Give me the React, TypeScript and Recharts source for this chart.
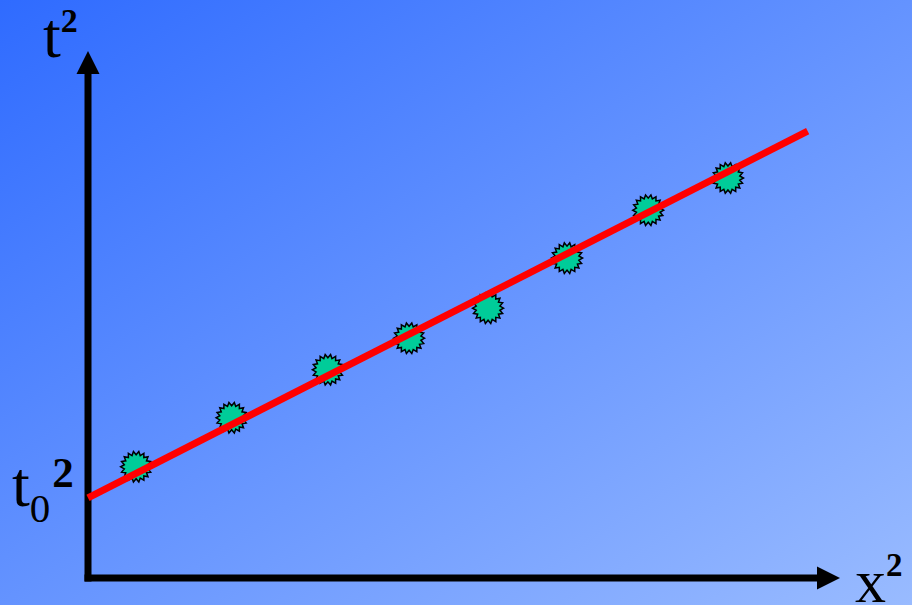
import { ComposedChart, XAxis, YAxis, Scatter, ReferenceLine } from "recharts"

// measured samples (x², t²) in arbitrary units
const xSquared = [0.64, 1.91, 3.19, 4.27, 5.32, 6.37, 7.45, 8.51]
const tSquared = [2.11, 3.04, 3.95, 4.55, 5.12, 6.07, 6.98, 7.59]

// least squares fit: intercept t0² and the far end of the drawn segment
const fitX = [0, 9.57]
const fitT = [1.52, 8.48]

const AXIS_MAX = 10

const points = xSquared.map((x, i) => ({ x, t: tSquared[i] }))
const fitLine = fitX.map((x, i) => ({ x, t: fitT[i] }))

const W = 912
const H = 605

function Starburst({ cx, cy }: { cx?: number; cy?: number }) {
  if (cx == null || cy == null) return null
  const spikes = 18
  const outer = 15.5
  const inner = 12
  const pts: string[] = []
  for (let i = 0; i < spikes * 2; i++) {
    const r = i % 2 === 0 ? outer : inner
    const a = (Math.PI * i) / spikes
    pts.push(`${cx + r * Math.cos(a)},${cy + r * Math.sin(a)}`)
  }
  return <polygon points={pts.join(" ")} fill="#00CC99" stroke="#000" strokeWidth={1.5} />
}

const NoDot = () => <g />

// thick axis with a filled arrow head at the far end
function ArrowAxis(props: any) {
  const { x1, y1, x2, y2 } = props
  const dx = x2 - x1
  const dy = y2 - y1
  const len = Math.hypot(dx, dy)
  const ux = dx / len
  const uy = dy / len
  const head = 23
  const half = 11.5
  const bx = x2 - ux * head
  const by = y2 - uy * head
  return (
    <g>
      <line x1={x1} y1={y1} x2={bx} y2={by} stroke="#000" strokeWidth={7} strokeLinecap="square" />
      <polygon
        points={`${x2},${y2} ${bx - uy * half},${by + ux * half} ${bx + uy * half},${by - ux * half}`}
        fill="#000"
      />
    </g>
  )
}

const serif = "'Liberation Serif', 'DejaVu Serif', serif"

export default function App() {
  return (
    <div
      style={{
        position: "fixed",
        left: 0,
        top: 0,
        width: W,
        height: H,
        background: "linear-gradient(to bottom right, #2F6BFF, #99BBFF)",
      }}
    >
      <ComposedChart width={W} height={H} margin={{ top: 51, right: 72, bottom: 27, left: 88 }}>
        <XAxis type="number" dataKey="x" domain={[0, AXIS_MAX]} hide />
        <YAxis type="number" dataKey="t" domain={[0, AXIS_MAX]} hide />
        <ReferenceLine
          segment={[{ x: 0, y: 0 }, { x: 0, y: AXIS_MAX }]}
          shape={ArrowAxis}
        />
        <ReferenceLine
          segment={[{ x: 0, y: 0 }, { x: AXIS_MAX, y: 0 }]}
          shape={ArrowAxis}
        />
        <Scatter data={points} dataKey="t" shape={<Starburst />} isAnimationActive={false} />
        {/* fit line drawn after the samples so it sits on top of them */}
        <Scatter
          data={fitLine}
          dataKey="t"
          line={{ stroke: "#FF0000", strokeWidth: 7 }}
          lineType="joint"
          shape={<NoDot />}
          isAnimationActive={false}
        />
      </ComposedChart>
      <svg
        width={W}
        height={H}
        style={{ position: "absolute", left: 0, top: 0, pointerEvents: "none" }}
        fontFamily={serif}
      >
        <text x={43} y={57} fontSize={64} fill="#000">
          t<tspan fontSize={34} fontWeight="bold" dy={-25}>2</tspan>
        </text>
        <text x={12} y={506} fontSize={64} fill="#000">
          t<tspan fontSize={41} dy={16}>0</tspan>
          <tspan fontSize={43} fontWeight="bold" dx={2} dy={-35}>2</tspan>
        </text>
        <text x={855} y={602} fontSize={62} fill="#000">
          x<tspan fontSize={33} fontWeight="bold" dy={-26}>2</tspan>
        </text>
      </svg>
    </div>
  )
}
